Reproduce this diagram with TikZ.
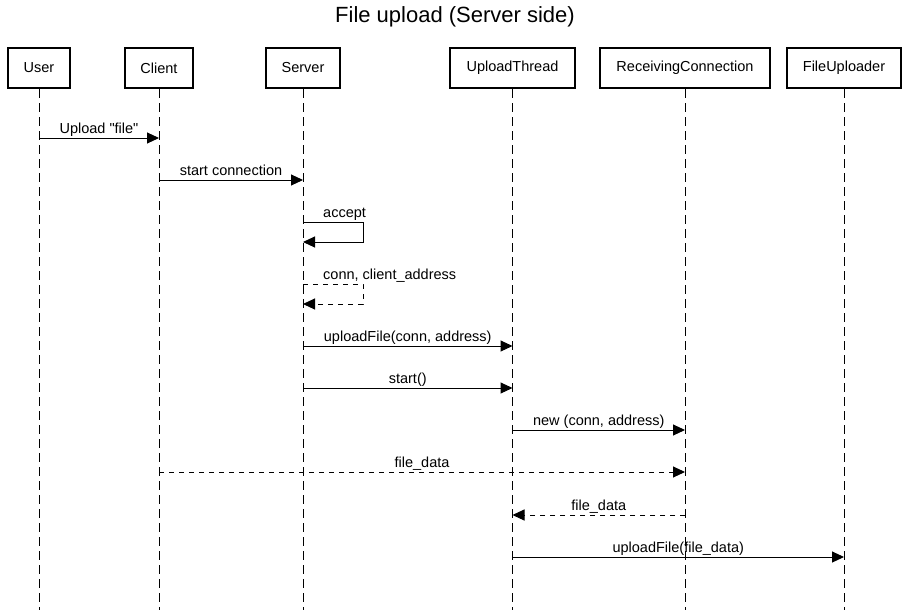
\documentclass[tikz,border=0pt]{standalone}
\usepackage{fontspec}
\setmainfont{Liberation Sans}[Ligatures=TeXOff]
\usetikzlibrary{arrows.meta}
\begin{document}
\begin{tikzpicture}[x=1pt,y=-1pt,
  actor/.style={draw, line width=2.2pt, inner sep=0pt, minimum height=40pt,
    font=\fontsize{14.5}{16}\selectfont},
  life/.style={line width=1pt, dash pattern=on 9pt off 5pt},
  msg/.style={line width=1pt, -{Triangle[length=12pt,width=11pt]}},
  reply/.style={msg, dash pattern=on 5pt off 5pt},
  lbl/.style={font=\fontsize{14.5}{16}\selectfont, inner sep=0pt, anchor=base},
  over/.style={lbl, yshift=5pt},
]
\useasboundingbox (0,0) rectangle (909,610);

% title
\node[font=\fontsize{22}{24}\selectfont, inner sep=0pt] (title) at (455,16.5) {File upload (Server side)};

% participants
\node[actor, minimum width=62pt]  (user)   at (39,68)    {User};
\node[actor, minimum width=68pt]  (client) at (159,68)   {Client};
\node[actor, minimum width=74pt]  (server) at (303,68)   {Server};
\node[actor, minimum width=125pt] (thread) at (512.5,68) {UploadThread};
\node[actor, minimum width=170pt] (recv)   at (685,68)   {ReceivingConnection};
\node[actor, minimum width=114pt] (fup)    at (844,68)   {FileUploader};

% lifelines
\coordinate (bottom) at (0,610);
\foreach \p in {user,client,server,thread,recv,fup}
  \draw[life] (\p.south) -- (\p |- bottom);

% message rows
\coordinate (r1) at (0,138);
\coordinate (r2) at (0,180);
\coordinate (r3a) at (0,222);
\coordinate (r3b) at (0,242);
\coordinate (r4a) at (0,284);
\coordinate (r4b) at (0,304);
\coordinate (r5) at (0,346);
\coordinate (r6) at (0,388);
\coordinate (r7) at (0,430);
\coordinate (r8) at (0,472);
\coordinate (r9) at (0,515);
\coordinate (r10) at (0,557);
\coordinate (loopx) at (363,0);

\draw[msg] (user |- r1) -- node[over] {Upload "file"} (client |- r1);
\draw[msg] (client |- r2) -- node[over] {start connection} (server |- r2);

\draw[msg] (server |- r3a) -- (loopx |- r3a) -- (loopx |- r3b) -- (server |- r3b);
\node[lbl, anchor=base west] (acc) at (323,217) {accept};

\draw[reply] (server |- r4a) -- (loopx |- r4a) -- (loopx |- r4b) -- (server |- r4b);
\node[lbl, anchor=base west] (ca) at (323,279) {conn, client\_address};

\draw[msg] (server |- r5) -- node[over] {uploadFile(conn, address)} (thread |- r5);
\draw[msg] (server |- r6) -- node[over] {start()} (thread |- r6);
\draw[msg] (thread |- r7) -- node[over] {new (conn, address)} (recv |- r7);
\draw[reply] (client |- r8) -- node[over] {file\_data} (recv |- r8);
\draw[reply] (recv |- r9) -- node[over] {file\_data} (thread |- r9);
\draw[msg] (thread |- r10) -- node[over] {uploadFile(file\_data)} (fup |- r10);
\end{tikzpicture}
\end{document}
